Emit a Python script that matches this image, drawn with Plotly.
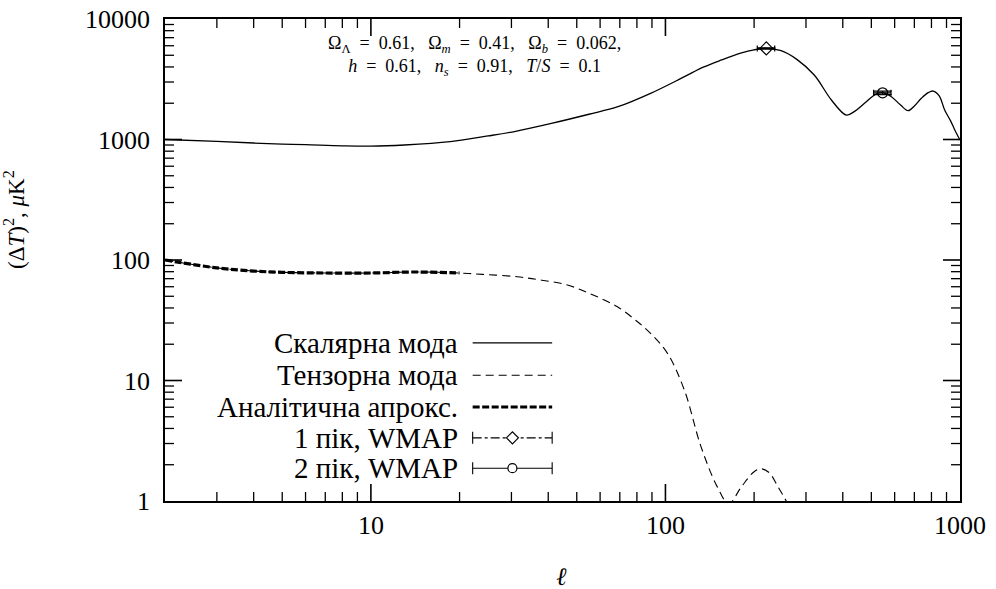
import plotly.graph_objects as go
import numpy as np

# ---- data ----
scalar_l = [2, 3, 4, 5, 6, 8, 10, 13, 18.6, 25, 31, 41, 55, 69, 89, 116, 135, 155, 180, 200,
            220, 247, 280, 320, 366, 411, 440, 474, 520, 550, 585, 630, 667, 700, 739, 780,
            811, 850, 887, 930, 960, 1000]
scalar_v = [1000, 965, 935, 915, 905, 885, 880, 900, 960, 1070, 1170, 1360, 1620, 1870, 2415,
            3320, 4000, 4570, 5200, 5550, 5700, 5455, 4600, 3427, 2128, 1596, 1720, 1995, 2390,
            2440, 2265, 1920, 1733, 1900, 2196, 2450, 2525, 2300, 1758, 1420, 1200, 990]

tensor_l = [2, 3, 4, 5, 7, 10, 14, 18.6, 24, 31.4, 38, 46.5, 56, 68.7, 80, 89, 101.6, 116,
            132, 150, 164, 181, 200, 211, 225, 241, 257, 275]
tensor_v = [100, 86, 81, 79, 78, 78, 79.5, 78.5, 76, 72.6, 68, 62, 52, 40.9, 31, 24.6, 16.8,
            8.3, 2.83, 1.31, 0.95, 1.31, 1.75, 1.85, 1.72, 1.31, 1.0, 0.7]

approx_l = [2, 3, 4, 5, 7, 10, 14, 18.6, 20]
approx_v = [100, 86, 81, 79, 78, 78, 79.5, 78.5, 78]

peak1_l, peak1_v, peak1_dl, peak1_dv = [220], [5700], [15], [75]
peak2_l, peak2_v, peak2_dl, peak2_dv = [546], [2440], [37], [80]

legend_labels = ["Скалярна мода", "Тензорна мода", "Аналітична апрокс.",
                 "1 пік, WMAP", "2 пік, WMAP"]

x_ticks = [10, 100, 1000]
x_ticktext = ["10", "100", "1000"]
y_ticks = [1, 10, 100, 1000, 10000]
y_ticktext = ["1", "10", "100", "1000", "10000"]
x_minor = [m * d for d in (1, 10, 100) for m in range(2, 10)]
y_minor = [m * d for d in (1, 10, 100, 1000) for m in range(2, 10)]

X_RANGE = [np.log10(2), 3]
Y_RANGE = [0, 4]
FONT = "Liberation Serif"
PW, PH = 795.0, 482.0  # plot area size in px

fig = go.Figure()
fig.add_trace(go.Scatter(x=scalar_l, y=scalar_v, mode="lines", line=dict(color="black", width=1.3, shape="spline")))
fig.add_trace(go.Scatter(x=tensor_l, y=tensor_v, mode="lines", line=dict(color="black", width=1.1, dash="8px,5px", shape="spline")))
fig.add_trace(go.Scatter(x=approx_l, y=approx_v, mode="lines", line=dict(color="black", width=3.2, dash="7px,2.5px", shape="spline")))
fig.add_trace(go.Scatter(x=peak1_l, y=peak1_v, mode="markers",
                         marker=dict(symbol="diamond-open", size=10, color="black", line=dict(width=1.2)),
                         error_x=dict(type="data", array=peak1_dl, color="black", thickness=1.2, width=3),
                         error_y=dict(type="data", array=peak1_dv, color="black", thickness=1.2, width=9)))
fig.add_trace(go.Scatter(x=peak2_l, y=peak2_v, mode="markers",
                         marker=dict(symbol="circle-open", size=10, color="black", line=dict(width=1.2)),
                         error_x=dict(type="data", array=peak2_dl, color="black", thickness=1.2, width=3),
                         error_y=dict(type="data", array=peak2_dv, color="black", thickness=1.2, width=9)))

# ---- inside tick marks on all four sides, drawn as line segments on the log axes ----
xdec = (X_RANGE[1] - X_RANGE[0]) / PW   # decades per px along x
ydec = (Y_RANGE[1] - Y_RANGE[0]) / PH   # decades per px along y
xlo, xhi = 10 ** X_RANGE[0], 10 ** X_RANGE[1]
ylo, yhi = 10 ** Y_RANGE[0], 10 ** Y_RANGE[1]


def tick_trace(xvals, yvals, length, width):
    tx, ty = [], []
    fy = 10 ** (length * ydec)
    fx = 10 ** (length * xdec)
    for v in xvals:
        if xlo < v < xhi:
            tx += [v, v, None, v, v, None]
            ty += [ylo, ylo * fy, None, yhi / fy, yhi, None]
    for v in yvals:
        if ylo < v < yhi:
            tx += [xlo, xlo * fx, None, xhi / fx, xhi, None]
            ty += [v, v, None, v, v, None]
    return go.Scatter(x=tx, y=ty, mode="lines", hoverinfo="skip",
                      line=dict(color="black", width=width))


fig.add_trace(tick_trace(x_ticks, y_ticks, 17, 1.6))
fig.add_trace(tick_trace(x_minor, y_minor, 9, 1.3))

# ---- hand-made legend (paper coordinates = plot area fractions) ----
shapes = []
rows = [0.328, 0.261, 0.195, 0.131, 0.068]
kx0, kx1 = 0.387, 0.487
kc = (kx0 + kx1) / 2
key_styles = [dict(width=1.3, dash="solid"), dict(width=1.1, dash="8px,5px"),
              dict(width=3.2, dash="7px,2.5px"), dict(width=1.1, dash="dashdot"),
              dict(width=1.1, dash="solid")]
for r, st in zip(rows, key_styles):
    shapes.append(dict(type="line", xref="paper", yref="paper", x0=kx0, x1=kx1, y0=r, y1=r,
                       line=dict(color="black", **st)))
cap = 6 / PH
for r in rows[3:]:
    for xx in (kx0, kx1):
        shapes.append(dict(type="line", xref="paper", yref="paper", x0=xx, x1=xx, y0=r - cap, y1=r + cap,
                           line=dict(color="black", width=1.1)))
dx, dy = 6 / PW, 6 / PH
r = rows[3]
shapes.append(dict(type="path", xref="paper", yref="paper",
                   path=f"M {kc - dx} {r} L {kc} {r + dy} L {kc + dx} {r} L {kc} {r - dy} Z",
                   fillcolor="white", line=dict(color="black", width=1.2)))
r = rows[4]
ex, ey = 4.5 / PW, 4.5 / PH
shapes.append(dict(type="circle", xref="paper", yref="paper", x0=kc - ex, x1=kc + ex, y0=r - ey, y1=r + ey,
                   fillcolor="white", line=dict(color="black", width=1.2)))

ann = []
for r, lab in zip(rows, legend_labels):
    ann.append(dict(x=0.371, y=r, xref="paper", yref="paper", text=lab, showarrow=False,
                    xanchor="right", yanchor="middle", font=dict(family=FONT, size=29, color="black")))
eq = "&nbsp;&nbsp;=&nbsp;&nbsp;"
sep = ",&nbsp;&nbsp; "
ann.append(dict(x=0.389, y=0.923, xref="paper", yref="paper", showarrow=False,
                text=f"Ω<sub>Λ</sub>{eq}0.61{sep}Ω<sub><i>m</i></sub>{eq}0.41{sep}Ω<sub><i>b</i></sub>{eq}0.062,<br>"
                     f"<i>h</i>{eq}0.61{sep}<i>n<sub>s</sub></i>{eq}0.91{sep}<i>T</i>/<i>S</i>{eq}0.1",
                xanchor="center", yanchor="middle", font=dict(family=FONT, size=18, color="black")))
ann.append(dict(x=-0.19, y=0.585, xref="paper", yref="paper", showarrow=False, textangle=-90,
                text="(Δ<i>T</i>)<sup>2</sup>, <i>μ</i>K<sup>2</sup>",
                xanchor="center", yanchor="middle", font=dict(family=FONT, size=23, color="black")))
ann.append(dict(x=0.499, y=-0.156, xref="paper", yref="paper", showarrow=False,
                text="<i>ℓ</i>", xanchor="center", yanchor="middle",
                font=dict(family=FONT, size=25, color="black")))

axis_common = dict(showline=True, linecolor="black", linewidth=1.6, mirror=True,
                   ticks="", showgrid=False, zeroline=False,
                   tickfont=dict(family=FONT, size=26, color="black"))

fig.update_layout(
    width=996, height=589, margin=dict(l=165, r=36, t=19, b=88, autoexpand=False),
    paper_bgcolor="white", plot_bgcolor="white", showlegend=False,
    xaxis=dict(type="log", range=X_RANGE, tickmode="array", tickvals=x_ticks, ticktext=x_ticktext,
               **axis_common),
    yaxis=dict(type="log", range=Y_RANGE, tickmode="array", tickvals=y_ticks, ticktext=y_ticktext,
               ticklabelstandoff=8, **axis_common),
    shapes=shapes,
    annotations=ann,
)

fig.write_html("out.html")
